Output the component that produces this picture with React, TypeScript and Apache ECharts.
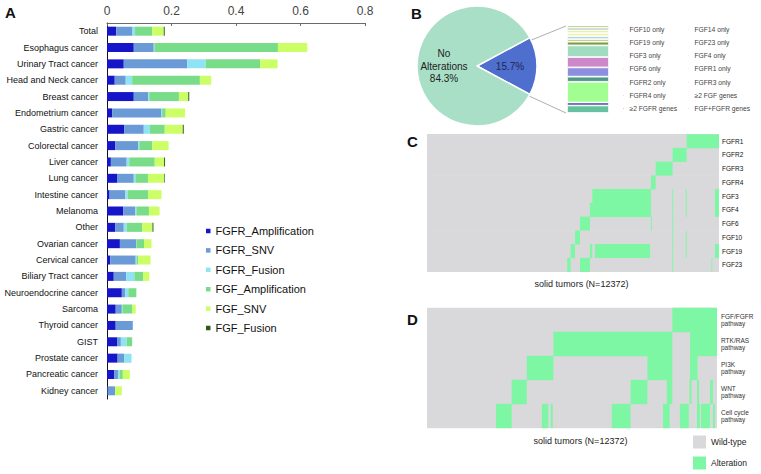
import React, { useEffect, useRef } from 'react';
import * as echarts from 'echarts';

const FONT = '"Liberation Sans", Arial, Helvetica, sans-serif';

// ---------- Panel A ----------
const categoriesA = [
  'Total', 'Esophagus cancer', 'Urinary Tract cancer', 'Head and Neck cancer', 'Breast cancer',
  'Endometrium cancer', 'Gastric cancer', 'Colorectal cancer', 'Liver cancer', 'Lung cancer',
  'Intestine cancer', 'Melanoma', 'Other', 'Ovarian cancer', 'Cervical cancer',
  'Biliary Tract cancer', 'Neuroendocrine cancer', 'Sarcoma', 'Thyroid cancer', 'GIST',
  'Prostate cancer', 'Pancreatic cancer', 'Kidney cancer',
];
const fgfrAmplification = [0.029, 0.083, 0.052, 0.024, 0.083, 0.016, 0.053, 0.026, 0.012, 0.031, 0.008, 0.050, 0.026, 0.040, 0.010, 0.021, 0.046, 0.027, 0.027, 0.031, 0.033, 0.022, 0.002];
const fgfrSNV = [0.050, 0.062, 0.197, 0.034, 0.045, 0.153, 0.061, 0.071, 0.049, 0.052, 0.049, 0.038, 0.026, 0.050, 0.079, 0.039, 0.010, 0.019, 0.053, 0.012, 0.020, 0.012, 0.023];
const fgfrFusion = [0.008, 0.002, 0.057, 0.020, 0.003, 0.002, 0.019, 0.003, 0.008, 0.005, 0.007, 0.003, 0.009, 0.001, 0.003, 0.025, 0.010, 0.002, 0, 0.018, 0.023, 0.005, 0];
const fgfAmplification = [0.053, 0.383, 0.169, 0.210, 0.092, 0.011, 0.046, 0.040, 0.079, 0.039, 0.064, 0.039, 0.048, 0.024, 0.005, 0.027, 0.025, 0.030, 0, 0.017, 0, 0.010, 0];
const fgfSNV = [0.036, 0.091, 0.054, 0.035, 0.029, 0.060, 0.056, 0.051, 0.029, 0.050, 0.041, 0.033, 0.032, 0.023, 0.038, 0.019, 0, 0.011, 0, 0, 0, 0.022, 0.021];
const fgfFusion = [0.003, 0, 0, 0, 0.003, 0, 0.003, 0, 0.003, 0.002, 0, 0, 0.003, 0, 0, 0, 0, 0, 0, 0, 0, 0, 0];
const seriesNamesA = ['FGFR_Amplification', 'FGFR_SNV', 'FGFR_Fusion', 'FGF_Amplification', 'FGF_SNV', 'FGF_Fusion'];
const seriesValuesA = [fgfrAmplification, fgfrSNV, fgfrFusion, fgfAmplification, fgfSNV, fgfFusion];
const colorsA = ['#1616c8', '#6b9bd6', '#8fe3f2', '#78dc88', '#ccff66', '#2d5a1b'];
const xTicksA = [0, 0.2, 0.4, 0.6, 0.8];

// ---------- Panel B ----------
const pieNames = ['Altered', 'No Alterations'];
const pieValues = [15.7, 84.3];
const pieColors = ['#4f6fcf', '#a9dfc7'];

const groupNames = [
  'FGF10 only', 'FGF14 only', 'FGF19 only', 'FGF23 only', 'FGF3 only', 'FGF4 only', 'FGF6 only',
  'FGFR1 only', 'FGFR2 only', 'FGFR3 only', 'FGFR4 only', '≥2 FGF genes', '≥2 FGFR genes', 'FGF+FGFR genes',
];
const groupShares = [2.5, 3.1, 3.0, 3.7, 3.2, 3.0, 4.2, 13.3, 11.8, 10.6, 5.9, 23.6, 3.4, 8.6];
const groupColors = [
  '#86bf46', '#bcbfc9', '#d9ef8a', '#f2f0a8', '#a8cce0', '#b8cc70', '#7f9a45',
  '#9fdcc0', '#cc88c8', '#8e8ede', '#4e9a86', '#a0ff90', '#3c3c98', '#66c29e',
];
const legendLeftCol = ['FGF10 only', 'FGF19 only', 'FGF3 only', 'FGF6 only', 'FGFR2 only', 'FGFR4 only', '≥2 FGFR genes'];
const legendRightCol = ['FGF14 only', 'FGF23 only', 'FGF4 only', 'FGFR1 only', 'FGFR3 only', '≥2 FGF genes', 'FGF+FGFR genes'];

// ---------- Panel C (intervals in % of samples, sorted) ----------
const cRows = ['FGFR1', 'FGFR2', 'FGFR3', 'FGFR4', 'FGF3', 'FGF4', 'FGF6', 'FGF10', 'FGF19', 'FGF23'];
const cAlter: number[][][] = [
  [[88.9, 100]],
  [[84.1, 88.9]],
  [[78.3, 84.1]],
  [[76.7, 78.3]],
  [[56.6, 76.7], [84.0, 84.3], [88.6, 88.9], [98.6, 100]],
  [[55.8, 76.7], [84.0, 84.3], [88.6, 88.9], [98.6, 100]],
  [[52.4, 55.8], [76.7, 77.0], [84.0, 84.3]],
  [[50.7, 52.4], [84.0, 84.3], [88.6, 88.9]],
  [[49.2, 50.7], [55.8, 56.6], [57.5, 76.4], [84.0, 84.3], [88.6, 88.9], [98.6, 100]],
  [[48.0, 49.2], [52.4, 55.8], [84.0, 84.3], [97.4, 97.7]],
];

// ---------- Panel D ----------
const dRows = ['FGF/FGFR\npathway', 'RTK/RAS\npathway', 'PI3K\npathway', 'WNT\npathway', 'Cell cycle\npathway'];
const dAlter: number[][][] = [
  [[84.6, 100]],
  [[43.6, 84.6], [90.7, 100]],
  [[34.4, 43.6], [76.0, 84.6], [90.7, 93.3]],
  [[29.2, 34.4], [70.2, 76.0], [82.7, 84.6], [90.5, 91.2], [93.1, 93.8], [97.6, 98.6]],
  [[23.8, 29.2], [39.6, 41.8], [42.7, 43.4], [63.7, 70.2], [81.4, 83.7], [87.2, 90.3], [93.1, 94.1], [94.5, 97.6], [98.6, 99.3]],
];
const sampleLabel = 'solid tumors (N=12372)';
const wildColor = '#d9d9dc';
const altColor = '#7ef7a4';

const toRects = (rows: number[][][]) =>
  rows.flatMap((ivs, r) => ivs.map(([a, b]) => [a, b, r]));
const fullRows = (rows: string[]) => rows.map((_, r) => [0, 100, r]);

const makeRender = (extra: number) => (params: any, api: any) => {
  const r = api.value(2);
  const p0 = api.coord([api.value(0), r]);
  const p1 = api.coord([api.value(1), r]);
  const h = api.size([0, 1])[1];
  const w = Math.max(p1[0] - p0[0], 0.9);
  return {
    type: 'rect',
    shape: { x: p0[0], y: p0[1] - h / 2 - extra / 2, width: w, height: h + extra },
    style: { fill: api.visual('color') },
  };
};

export default function App() {
  const ref = useRef<HTMLDivElement>(null);
  useEffect(() => {
    if (!ref.current) return;
    const chart = echarts.init(ref.current, undefined, { renderer: 'svg' });
    const totalShare = groupShares.reduce((a, b) => a + b, 0);
    const titleStyle = { fontSize: 15, fontWeight: 'bold', color: '#111', fontFamily: FONT };
    const hiddenAxisBits = {
      axisLine: { show: false }, axisTick: { show: false }, axisLabel: { show: false }, splitLine: { show: false },
    };
    const option: any = {
      animation: false,
      backgroundColor: '#ffffff',
      textStyle: { fontFamily: FONT },
      title: [
        { text: 'A', left: 5, top: 5, padding: 0, textStyle: titleStyle },
        { text: 'B', left: 411, top: 6, padding: 0, textStyle: titleStyle },
        { text: 'C', left: 407, top: 134, padding: 0, textStyle: titleStyle },
        { text: 'D', left: 407, top: 312, padding: 0, textStyle: titleStyle },
      ],
      legend: [
        {
          data: seriesNamesA, orient: 'vertical', left: 206, top: 224, padding: 0,
          itemWidth: 4.5, itemHeight: 4.5, itemGap: 5.4, icon: 'rect',
          textStyle: { fontSize: 11, lineHeight: 14, color: '#111', fontFamily: FONT },
        },
        {
          data: legendLeftCol, orient: 'vertical', left: 621, top: 25.3, padding: 0,
          itemWidth: 2.5, itemHeight: 2.5, itemGap: 5.2, icon: 'rect',
          textStyle: { fontSize: 6.7, lineHeight: 8, color: '#444', fontFamily: FONT },
        },
        {
          data: legendRightCol, orient: 'vertical', left: 686, top: 25.3, padding: 0,
          itemWidth: 2.5, itemHeight: 2.5, itemGap: 5.2, icon: 'rect',
          textStyle: { fontSize: 6.7, lineHeight: 8, color: '#444', fontFamily: FONT },
        },
        {
          data: ['Wild-type', 'Alteration'], orient: 'vertical', left: 693, top: 435.5, padding: 0,
          itemWidth: 13, itemHeight: 13, itemGap: 8, icon: 'rect',
          textStyle: { fontSize: 8.5, color: '#222', fontFamily: FONT },
        },
      ],
      grid: [
        { left: 107, top: 23, width: 258, height: 376 },
        { left: 567, top: 25.5, width: 42, height: 87.5 },
        { left: 427, top: 134.3, width: 292, height: 137.4 },
        { left: 427, top: 308, width: 290, height: 120 },
      ],
      xAxis: [
        {
          gridIndex: 0, type: 'value', position: 'top',
          min: xTicksA[0], max: xTicksA[xTicksA.length - 1], interval: xTicksA[1] - xTicksA[0],
          axisLine: { show: true, lineStyle: { color: '#6a6a6a', width: 1 } },
          axisTick: { show: true, inside: true, length: 3, lineStyle: { color: '#6a6a6a' } },
          axisLabel: {
            fontSize: 12, color: '#444', margin: 6, fontFamily: FONT,
            formatter: (v: number) => (v === 0 ? '0' : v.toFixed(1)),
          },
          splitLine: { show: false },
        },
        { gridIndex: 1, type: 'category', data: ['Altered'], show: false },
        {
          gridIndex: 2, type: 'value', min: 0, max: 100, ...hiddenAxisBits,
          name: sampleLabel, nameLocation: 'middle', nameGap: 8,
          nameTextStyle: { fontSize: 9, color: '#222', padding: [0, 0, 0, 17], fontFamily: FONT },
        },
        {
          gridIndex: 3, type: 'value', min: 0, max: 100, ...hiddenAxisBits,
          name: sampleLabel, nameLocation: 'middle', nameGap: 8,
          nameTextStyle: { fontSize: 9, color: '#222', padding: [0, 0, 0, 17], fontFamily: FONT },
        },
      ],
      yAxis: [
        {
          gridIndex: 0, type: 'category', data: categoriesA, inverse: true,
          axisLine: { show: true, lineStyle: { color: '#111', width: 1 } },
          axisTick: { show: false },
          axisLabel: { fontSize: 9, color: '#111', margin: 9, fontFamily: FONT },
        },
        { gridIndex: 1, type: 'value', min: 0, max: totalShare, inverse: true, show: false },
        {
          gridIndex: 2, type: 'category', data: cRows, inverse: true, position: 'right',
          axisLine: { show: false }, axisTick: { show: false },
          axisLabel: { fontSize: 6.5, color: '#111', margin: 3, fontFamily: FONT },
        },
        {
          gridIndex: 3, type: 'category', data: dRows, inverse: true, position: 'right',
          axisLine: { show: false }, axisTick: { show: false },
          axisLabel: { fontSize: 6.5, lineHeight: 7.5, color: '#333', margin: 4, fontFamily: FONT },
        },
      ],
      graphic: [
        { type: 'line', shape: { x1: 529, y1: 41, x2: 566, y2: 26 }, style: { stroke: '#9a9a9a', lineWidth: 0.8 } },
        { type: 'line', shape: { x1: 529, y1: 96, x2: 566, y2: 113 }, style: { stroke: '#9a9a9a', lineWidth: 0.8 } },
      ],
      series: [
        ...seriesNamesA.map((name, i) => ({
          name, type: 'bar', stack: 'a', xAxisIndex: 0, yAxisIndex: 0, barWidth: 9,
          itemStyle: { color: colorsA[i] }, data: seriesValuesA[i],
        })),
        {
          type: 'pie', center: [477, 66], radius: 60,
          startAngle: (pieValues[0] * 3.6) / 2, clockwise: true,
          labelLine: { show: false },
          itemStyle: { borderColor: '#ffffff', borderWidth: 1.5 },
          data: pieNames.map((n, i) => ({
            name: n, value: pieValues[i], itemStyle: { color: pieColors[i] },
            label: i === 0 ? { color: '#1c2750' } : { color: '#222' },
          })),
          label: {
            show: true, position: 'inside', fontSize: 10, lineHeight: 12.5, fontFamily: FONT,
            formatter: (p: any) => (p.dataIndex === 0 ? `${p.value}%` : `${p.name.replace(' ', '\n')}\n${p.value}%`),
          },
        },
        ...groupNames.map((name, i) => ({
          name, type: 'bar', stack: 'b', xAxisIndex: 1, yAxisIndex: 1, barWidth: '100%',
          itemStyle: { color: groupColors[i], borderColor: '#ffffff', borderWidth: 0.8 },
          data: [groupShares[i]],
        })),
        {
          name: 'Wild-type', type: 'custom', xAxisIndex: 2, yAxisIndex: 2,
          itemStyle: { color: wildColor }, encode: { x: [0, 1], y: 2 },
          renderItem: makeRender(0.5), data: fullRows(cRows), z: 1,
        },
        {
          name: 'Alteration', type: 'custom', xAxisIndex: 2, yAxisIndex: 2,
          itemStyle: { color: altColor }, encode: { x: [0, 1], y: 2 },
          renderItem: makeRender(0.3), data: toRects(cAlter), z: 2,
        },
        {
          name: 'Wild-type', type: 'custom', xAxisIndex: 3, yAxisIndex: 3,
          itemStyle: { color: wildColor }, encode: { x: [0, 1], y: 2 },
          renderItem: makeRender(0.5), data: fullRows(dRows), z: 1,
        },
        {
          name: 'Alteration', type: 'custom', xAxisIndex: 3, yAxisIndex: 3,
          itemStyle: { color: altColor }, encode: { x: [0, 1], y: 2 },
          renderItem: makeRender(0.3), data: toRects(dAlter), z: 2,
        },
      ],
    };
    chart.setOption(option);
    return () => chart.dispose();
  }, []);
  return (
    <div
      ref={ref}
      style={{ position: 'absolute', left: 0, top: 0, width: 761, height: 474, background: '#fff' }}
    />
  );
}
